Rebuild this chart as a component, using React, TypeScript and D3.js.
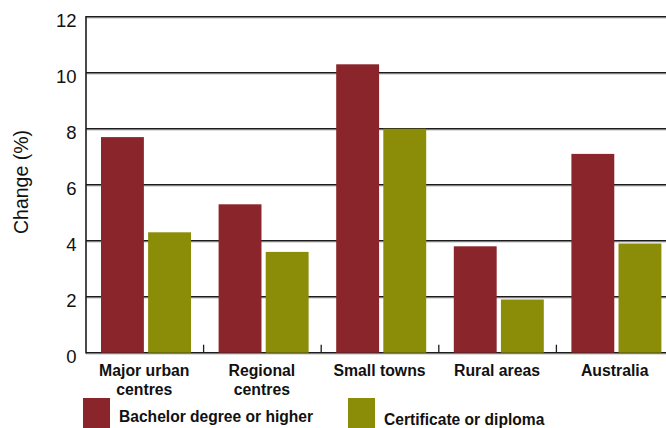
import React from "react";
import * as d3 from "d3";

const categories = ["Major urban\ncentres", "Regional\ncentres", "Small towns", "Rural areas", "Australia"];
const seriesNames = ["Bachelor degree or higher", "Certificate or diploma"];
const bachelor = [7.7, 5.3, 10.3, 3.8, 7.1];
const certificate = [4.3, 3.6, 8.0, 1.9, 3.9];
const yTicks = [0, 2, 4, 6, 8, 10, 12];
const colors = ["#8a262b", "#8b8c07"];

const W = 666;
const H = 428;
const font = "'Liberation Sans', Arial, Helvetica, sans-serif";

export default function App() {
  const x = d3.scaleBand<string>().domain(categories).range([86, 674]).paddingInner(0).paddingOuter(0);
  const sub = d3.scaleBand<string>().domain(seriesNames).range([15, 105]).paddingInner(0.09);
  const y = d3.scaleLinear().domain([0, 12]).range([352.7, 16.7]);
  const values = [bachelor, certificate];

  return (
    <svg
      width={W}
      height={H}
      style={{ position: "absolute", left: 0, top: 0, background: "#fff" }}
      fontFamily={font}
    >
      {/* gridlines with light shadow */}
      {yTicks.map((t) => (
        <g key={t}>
          <line x1={86} x2={W} y1={y(t) + 1.3} y2={y(t) + 1.3} stroke="#bdbdbd" strokeWidth={1} />
          <line x1={86} x2={W} y1={y(t)} y2={y(t)} stroke="#1c1c1c" strokeWidth={1.6} />
          <text x={76.5} y={y(t) + 10.5} textAnchor="end" fontSize={18.5} fill="#111">
            {t}
          </text>
        </g>
      ))}
      {/* bars */}
      {categories.map((c, i) =>
        seriesNames.map((s, j) => (
          <rect
            key={c + s}
            x={(x(c) as number) + (sub(s) as number)}
            y={y(values[j][i])}
            width={sub.bandwidth()}
            height={y(0) - y(values[j][i])}
            fill={colors[j]}
          />
        ))
      )}
      {/* left axis */}
      <line x1={86} x2={86} y1={y(12) - 0.8} y2={y(0) + 0.8} stroke="#1c1c1c" strokeWidth={1.6} />
      {/* category ticks */}
      {categories.slice(1).map((c) => (
        <line key={c} x1={x(c) as number} x2={x(c) as number} y1={y(0)} y2={y(0) - 8} stroke="#1c1c1c" strokeWidth={1.3} />
      ))}
      {/* category labels */}
      {categories.map((c) => (
        <text
          key={c}
          x={(x(c) as number) + x.bandwidth() / 2 - 0.5}
          y={375.5}
          textAnchor="middle"
          fontSize={15.8}
          fontWeight="bold"
          fill="#111"
        >
          {c.split("\n").map((line, k) => (
            <tspan key={k} x={(x(c) as number) + x.bandwidth() / 2 - 0.5} dy={k === 0 ? 0 : 19}>
              {line}
            </tspan>
          ))}
        </text>
      ))}
      {/* y axis title */}
      <text
        transform={`translate(27.5,182) rotate(-90)`}
        textAnchor="middle"
        fontSize={19.5}
        fill="#111"
      >
        Change (%)
      </text>
      {/* legend */}
      {seriesNames.map((s, j) => {
        const lx = j === 0 ? 83 : 348;
        return (
          <g key={s}>
            <rect x={lx} y={398} width={27} height={30} fill={colors[j]} />
            <text x={lx + 36} y={j === 0 ? 422 : 425} fontSize={15.6} fontWeight="bold" fill="#111">
              {s}
            </text>
          </g>
        );
      })}
    </svg>
  );
}
